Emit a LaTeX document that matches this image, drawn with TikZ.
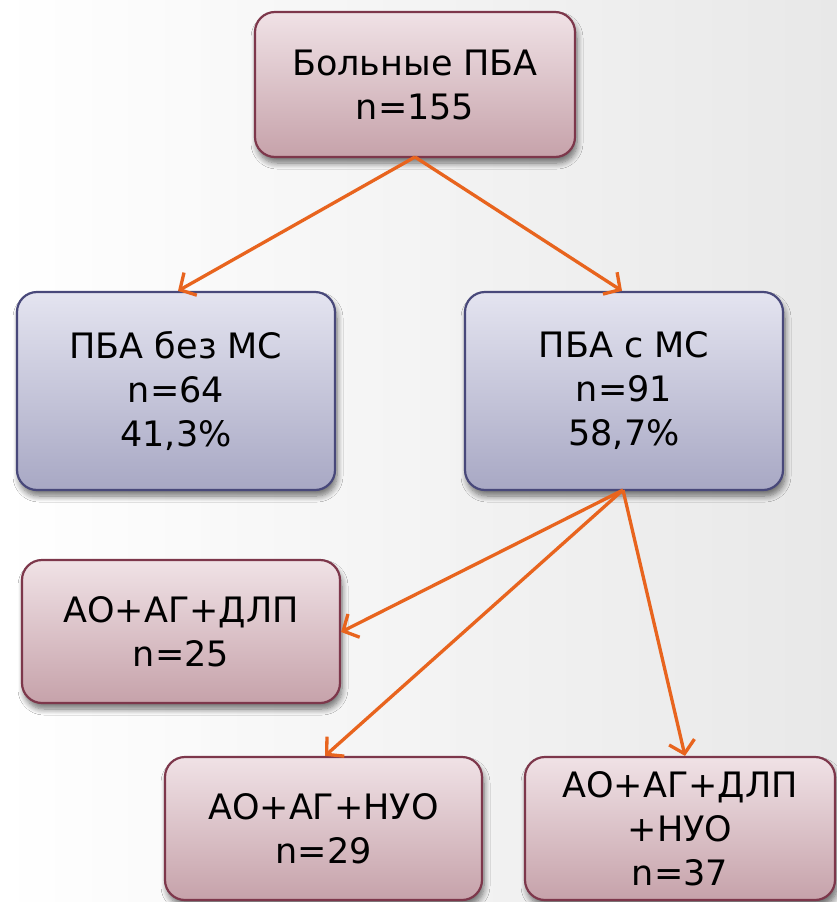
\documentclass[tikz,border=0pt]{standalone}
\usepackage{fontspec}
\setmainfont{DejaVu Sans}
\usetikzlibrary{arrows.meta,shadows.blur}
\definecolor{pinkTop}{RGB}{240,226,230}
\definecolor{pinkBot}{RGB}{198,162,170}
\definecolor{pinkLine}{RGB}{125,55,75}
\definecolor{blueTop}{RGB}{228,228,240}
\definecolor{blueBot}{RGB}{168,168,196}
\definecolor{blueLine}{RGB}{72,72,122}
\definecolor{arrowCol}{RGB}{232,100,30}
\tikzset{
  box/.style={rounded corners=20pt, line width=2.2pt, align=center,
    font=\fontsize{35}{44}\selectfont, inner sep=0pt,
    blur shadow={shadow xshift=2pt, shadow yshift=-6pt, shadow blur steps=8, shadow blur radius=6pt, shadow opacity=55}},
  pinkbox/.style={box, draw=pinkLine, top color=pinkTop, bottom color=pinkBot},
  bluebox/.style={box, draw=blueLine, top color=blueTop, bottom color=blueBot},
  conn/.style={draw=arrowCol, line width=3.3pt, -{Straight Barb[length=12pt,width=26pt,line width=3.3pt]}}
}
\begin{document}
\begin{tikzpicture}[x=1pt,y=-1pt]
\fill[left color=white, right color=black!9] (0,0) rectangle (837,902);
\useasboundingbox (0,0) rectangle (837,902);
\node[pinkbox, minimum width=320pt, minimum height=145pt] (root) at (415,84.5) {Больные ПБА\\n=155};
\node[bluebox, minimum width=318pt, minimum height=198pt] (left) at (176,391) {ПБА без МС\\n=64\\41,3\%};
\node[bluebox, minimum width=318pt, minimum height=198pt] (right) at (624,391) {ПБА с МС\\n=91\\58,7\%};
\node[pinkbox, minimum width=318pt, minimum height=143pt] (g1) at (181,631.5) {АО+АГ+ДЛП\\n=25};
\node[pinkbox, minimum width=317pt, minimum height=143pt] (g2) at (323.5,828.5) {АО+АГ+НУО\\n=29};
\node[pinkbox, minimum width=310pt, minimum height=143pt] (g3) at (680,828.5) {АО+АГ+ДЛП\\+НУО\\n=37};
\coordinate (rs) at (415,157);
\coordinate (ms) at (623,490);
\draw[conn] (rs) -- (left.north -| 178,0);
\draw[conn] (rs) -- (right.north -| 622,0);
\draw[conn] (ms) -- (g1.east |- 0,632);
\draw[conn] (ms) -- (g2.north -| 325,0);
\draw[conn] (ms) -- (g3.north -| 685,0);
\end{tikzpicture}
\end{document}
